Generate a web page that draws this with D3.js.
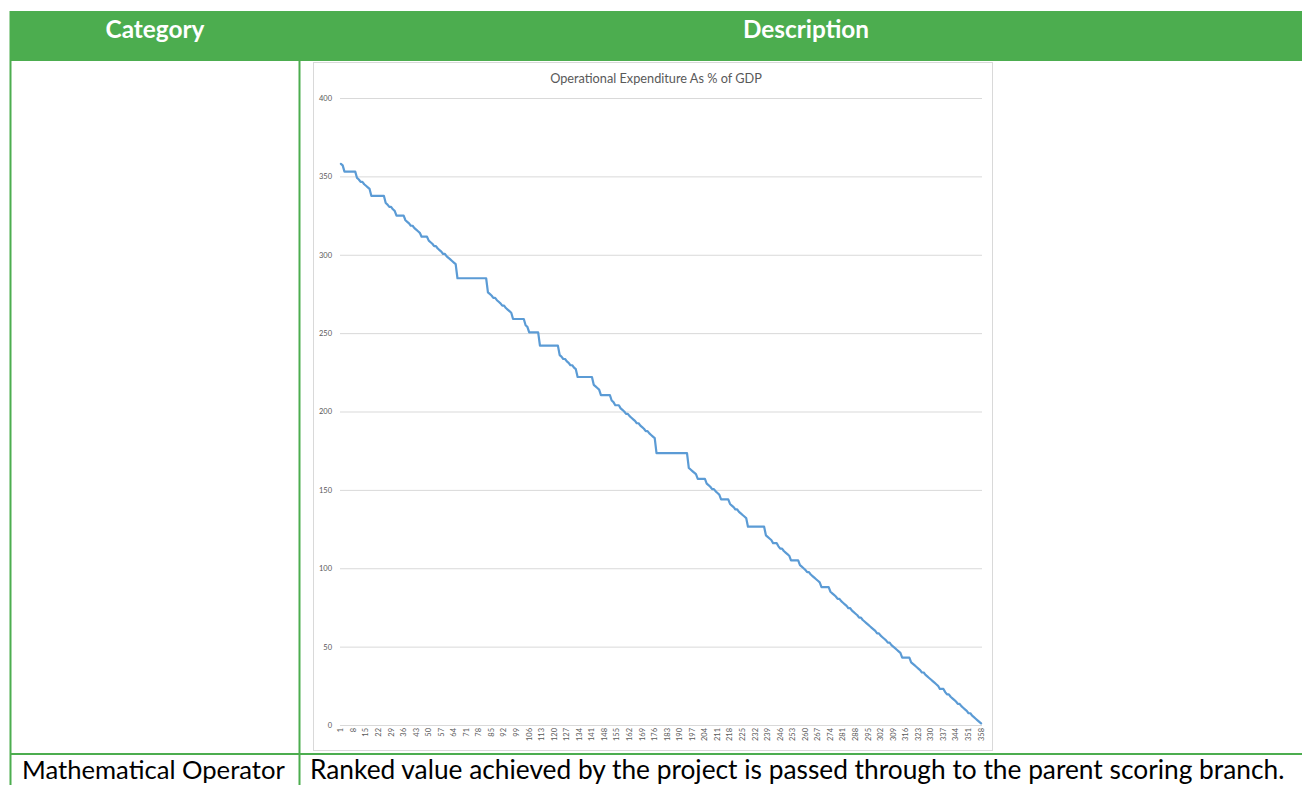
<!DOCTYPE html>
<html>
<head>
<meta charset="utf-8">
<script src="https://cdn.jsdelivr.net/npm/d3@7"></script>
<style>
  html, body { margin: 0; padding: 0; background: #ffffff; overflow: hidden; }
  svg { display: block; }
</style>
</head>
<body>
<svg id="chart" width="1302" height="785"></svg>
<script>
// ---------------- data ----------------
const headerLabels = ["Category", "Description"];
const rowCategory = "Mathematical Operator";
const rowDescription = "Ranked value achieved by the project is passed through to the parent scoring branch.";
const chartTitle = "Operational Expenditure As % of GDP";
const yTicks = [0, 50, 100, 150, 200, 250, 300, 350, 400];
const xTickLabels = [1, 8, 15, 22, 29, 36, 43, 50, 57, 64, 71, 78, 85, 92, 99, 106, 113, 120, 127, 134, 141, 148, 155, 162, 169, 176, 183, 190, 197, 204, 211, 218, 225, 232, 239, 246, 253, 260, 267, 274, 281, 288, 295, 302, 309, 316, 323, 330, 337, 344, 351, 358];
const categories = d3.range(1, 359); // 1..358 ranks
const rankedValues = [
  358,357,353,353,353,353,353,353,353,349,
  348,346.5,346.5,345,344,343,342,337.5,337.5,337.5,
  337.5,337.5,337.5,337.5,337.5,333,332,330.5,330.5,329,
  328,325,325,325,325,325,322,321,320,318.5,
  318.5,317,316,315,314,311.5,311.5,311.5,311.5,309,
  308,307,305.5,305.5,304,303,302,300.5,300.5,299,
  298,297,296,295,294,285,285,285,285,285,
  285,285,285,285,285,285,285,285,285,285,
  285,285,276,275,274,272.5,272.5,271,270,269,
  267.5,267.5,266,265,264,263,259,259,259,259,
  259,259,259,255,254,250.5,250.5,250.5,250.5,250.5,
  250.5,242,242,242,242,242,242,242,242,242,
  242,242,236,235,233.5,233.5,232,231,229.5,229.5,
  228,227,222,222,222,222,222,222,222,222,
  222,217,216,215,214,210.5,210.5,210.5,210.5,210.5,
  210.5,207,206,204,204,204,202,201,200,198.5,
  198.5,197,196,195,194,192.5,192.5,191,190,189,
  187.5,187.5,186,185,184,183,173.5,173.5,173.5,173.5,
  173.5,173.5,173.5,173.5,173.5,173.5,173.5,173.5,173.5,173.5,
  173.5,173.5,173.5,173.5,164,163,162,161,160,157,
  157,157,157,157,154,153,152,150.5,150.5,149,
  148,147,144,144,144,144,144,141,140,139,
  137.5,137.5,136,135,134,133,132,126.5,126.5,126.5,
  126.5,126.5,126.5,126.5,126.5,126.5,126.5,121,120,119,
  118,116,116,116,114,112.5,112.5,111,110,109,
  108,105,105,105,105,105,102,101,100,99,
  97.5,97.5,96,95,94,93,92,91,88,88,
  88,88,88,85,84,83,82,80.5,80.5,79,
  78,77,76,74.5,74.5,73,72,71,70,68.5,
  68.5,67,66,65,64,63,62,61,60,58.5,
  58.5,57,56,55,54,52.5,52.5,51,50,49,
  48,47,46,43,43,43,43,43,40,39,
  38,37,36,35,33.5,33.5,32,31,30,29,
  28,27,26,25,23,23,23,21,19.5,19.5,
  18,17,16,15,13.5,13.5,12,11,10,9,
  7.5,7.5,6,5,4,3,2,1
];

// ---------------- drawing ----------------
const svg = d3.select("#chart");
const green = "#4cad4f";
const textGray = "#595959";
const gridGray = "#d9d9d9";

function fitWidth(sel, target) {
  const len = sel.node().getComputedTextLength();
  const fs = parseFloat(sel.attr("font-size"));
  sel.attr("font-size", (fs * target / len).toFixed(2));
}

// Table header
svg.append("rect").attr("x", 10).attr("y", 11).attr("width", 1292).attr("height", 50).attr("fill", green);
const hdrCenters = [155, 806];
const hdrWidths = [99, 126];
headerLabels.forEach((t, i) => {
  const s = svg.append("text")
    .attr("x", hdrCenters[i]).attr("y", 38)
    .attr("text-anchor", "middle")
    .attr("font-family", "Lato, 'Open Sans', sans-serif")
    .attr("font-weight", "bold")
    .attr("font-size", 22)
    .attr("fill", "#ffffff")
    .text(t);
  fitWidth(s, hdrWidths[i]);
});

// table borders
const borders = svg.append("g").attr("stroke", green).attr("stroke-width", 2);
borders.append("line").attr("x1", 10.5).attr("x2", 10.5).attr("y1", 11).attr("y2", 785);
borders.append("line").attr("x1", 299.5).attr("x2", 299.5).attr("y1", 61).attr("y2", 785);
borders.append("line").attr("x1", 10).attr("x2", 1302).attr("y1", 754).attr("y2", 754);

// Row 2 text
const c1 = svg.append("text").attr("x", 22).attr("y", 779)
  .attr("font-family", "Lato, 'Open Sans', sans-serif").attr("font-size", 24)
  .attr("fill", "#000000").text(rowCategory);
fitWidth(c1, 263);
const c2 = svg.append("text").attr("x", 310).attr("y", 779)
  .attr("font-family", "Lato, 'Open Sans', sans-serif").attr("font-size", 24)
  .attr("fill", "#000000").text(rowDescription);
fitWidth(c2, 975);

// Chart frame
svg.append("rect").attr("x", 313.5).attr("y", 62.5).attr("width", 679).attr("height", 688)
  .attr("fill", "#ffffff").attr("stroke", gridGray).attr("stroke-width", 1);

// Title
const title = svg.append("text").attr("x", 656).attr("y", 83)
  .attr("text-anchor", "middle")
  .attr("font-family", "Lato, 'Open Sans', sans-serif").attr("font-size", 10.5)
  .attr("fill", textGray).text(chartTitle);
fitWidth(title, 212);

// Scales
const x = d3.scaleBand().domain(categories).range([340, 982]).padding(0);
const xc = d => x(d) + x.bandwidth() / 2;
const y = d3.scaleLinear().domain([0, 400]).range([725, 98]);

// Gridlines & y labels via axis
const yAxis = d3.axisLeft(y).tickValues(yTicks).tickSize(-(982 - 340)).tickPadding(8).tickFormat(d3.format("d"));
const gy = svg.append("g").attr("transform", "translate(340,0)").call(yAxis);
gy.select(".domain").remove();
gy.selectAll(".tick line").attr("stroke", gridGray).attr("stroke-width", 1);
gy.selectAll(".tick text").attr("fill", textGray).attr("font-size", 7.5)
  .attr("font-family", "Lato, 'Open Sans', sans-serif").attr("x", -8);

// X axis
const xAxis = d3.axisBottom(x)
  .tickValues(xTickLabels)
  .tickSize(0)
  .tickPadding(0);
const gx = svg.append("g").attr("transform", "translate(0,725)").call(xAxis);
gx.select(".domain").attr("stroke", gridGray).attr("d", "M340,0.5H982");
gx.selectAll(".tick text")
  .attr("fill", textGray).attr("font-size", 7.5)
  .attr("font-family", "Lato, 'Open Sans', sans-serif")
  .attr("transform", "rotate(-90)")
  .attr("text-anchor", "end")
  .attr("dy", "0.32em")
  .attr("x", -3).attr("y", 0);

// Line
const line = d3.line().x((d, i) => xc(categories[i])).y(d => y(d));
svg.append("path").datum(rankedValues)
  .attr("fill", "none").attr("stroke", "#5b9bd5").attr("stroke-width", 2.2)
  .attr("stroke-linejoin", "round").attr("stroke-linecap", "round")
  .attr("d", line);
</script>
</body>
</html>
